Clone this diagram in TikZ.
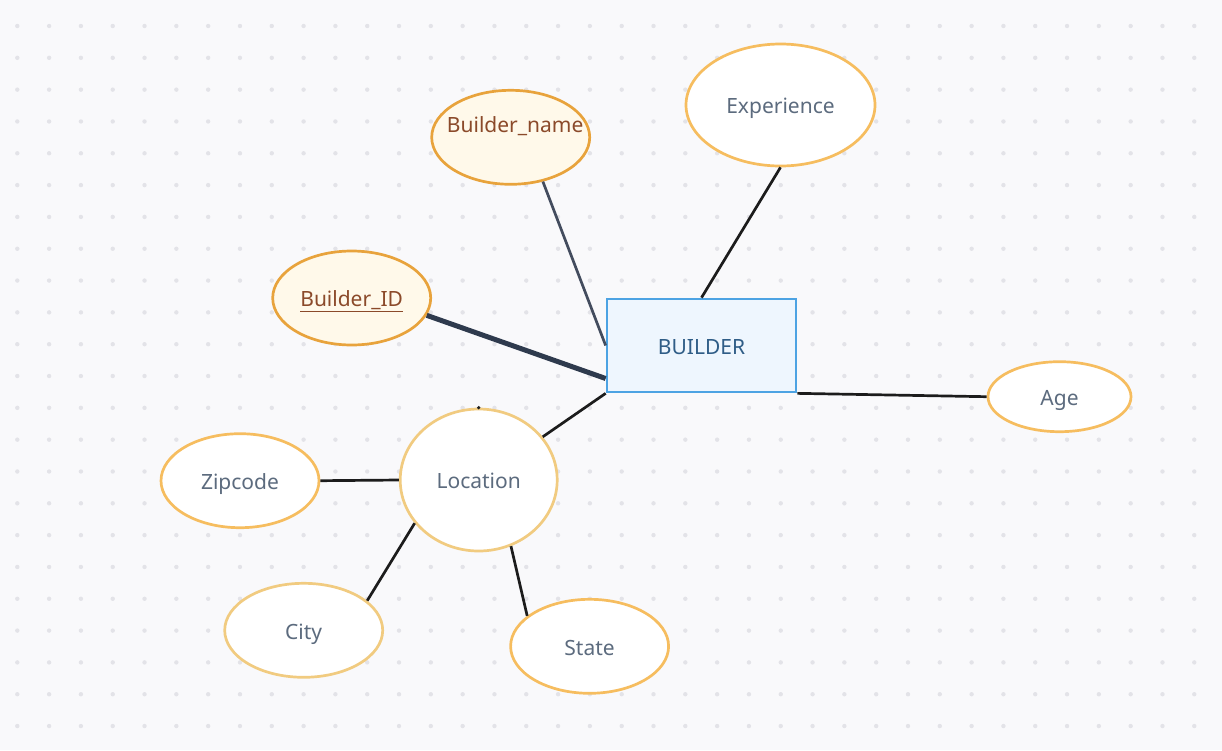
\documentclass[tikz,border=0pt]{standalone}
\usepackage{fontspec}
\setmainfont{Noto Sans}
\usetikzlibrary{shapes.geometric}
\definecolor{bgcol}{HTML}{F9F9FB}
\definecolor{dotcol}{HTML}{E3E3E8}
\definecolor{attrline}{HTML}{F6BD5F}
\definecolor{paleline}{HTML}{F1CB80}
\definecolor{attrtext}{HTML}{5C6B7E}
\definecolor{keyline}{HTML}{E8A33C}
\definecolor{keyfill}{HTML}{FFF9EA}
\definecolor{keytext}{HTML}{8B4A2A}
\definecolor{entline}{HTML}{4DA3E3}
\definecolor{entfill}{HTML}{EEF6FE}
\definecolor{enttext}{HTML}{2F5D87}
\definecolor{linkcol}{HTML}{1C1C1C}
\definecolor{slatecol}{HTML}{434C5E}
\definecolor{darkcol}{HTML}{2E3A4D}
\tikzstyle{attr} = [ellipse, draw=attrline, line width=2.7pt, fill=white, text=attrtext, inner sep=0pt, minimum width=158pt, minimum height=94pt, text height=19pt, text depth=1.6pt, font=\fontsize{21}{25}\selectfont]
\tikzstyle{keyattr} = [attr, draw=keyline, fill=keyfill, text=keytext]
\tikzstyle{entity} = [rectangle, draw=entline, line width=2.7pt, fill=entfill, text=enttext, inner sep=0pt, minimum width=189pt, minimum height=93pt, text height=19pt, text depth=1.6pt, font=\fontsize{21}{25}\selectfont]
\tikzstyle{link} = [line width=2.7pt, draw=linkcol]

\begin{document}
\begin{tikzpicture}[x=1pt,y=-1pt]

\useasboundingbox[fill=bgcol] (0,0) rectangle (1222,750);
\foreach \i in {0,...,37}
  \foreach \j in {0,...,22}
    \fill[dotcol] (17.3+31.81*\i,26+31.82*\j) circle (2.2pt);

\node (bld) [entity] at (701.5,345.5) {BUILDER};
\node (bname) [keyattr] at (510.7,137.3) {\raisebox{14pt}{\makebox[100pt]{\hspace{9pt}Builder\_name}}};
\node (bid) [keyattr] at (351.7,298) {\underline{Builder\_ID}};
\node (exp) [attr, minimum width=189pt, minimum height=122pt] at (780.5,105) {Experience};
\node (age) [attr, minimum width=143pt, minimum height=70pt] at (1059.5,396.7) {Age};
\node (loc) [attr, draw=paleline, minimum width=157pt, minimum height=142pt] at (478.7,480) {Location};
\node (zip) [attr] at (240,480.7) {Zipcode};
\node (city) [attr, draw=paleline] at (303.7,630.3) {City};
\node (state) [attr] at (589.6,646.3) {State};

\draw [link, draw=slatecol] (bname.-54) -- (bld.west);
\draw [link, draw=darkcol, line width=5pt] (bid.-13) -- (bld.199);
\draw [link] (exp.south) -- (bld.north);
\draw [link] (bld.south east) -- (age.west);
\draw [link] (bld.south west) -- (loc.34);
\draw [link] (loc.west) -- (zip.east);
\draw [link] (loc.214) -- (city.25);
\draw [link] (loc.-64) -- (state.154);
\fill[linkcol] (loc.north) circle (1.8pt);

\end{tikzpicture}
\end{document}
